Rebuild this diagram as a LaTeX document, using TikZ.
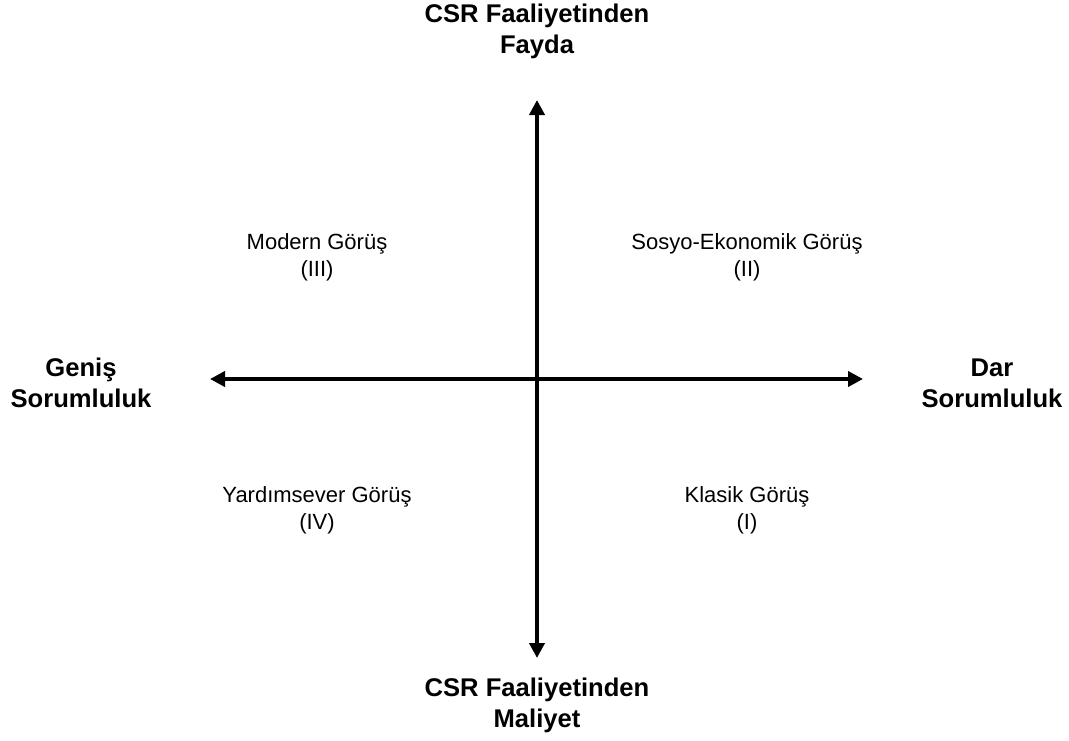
\documentclass[tikz,border=0pt]{standalone}
\usepackage{fontspec}
\setmainfont{Liberation Sans}
\usetikzlibrary{arrows.meta}

\begin{document}
\begin{tikzpicture}[x=1pt,y=-1pt]
			\tikzstyle{every node}+=[inner sep=0pt, align=center]
			\tikzstyle{axislabel}=[font=\fontsize{25.6}{31}\selectfont\bfseries]
			\tikzstyle{view}=[font=\fontsize{22}{27}\selectfont]
			\tikzstyle{axis}=[line width=4pt, {Triangle[length=15pt,width=15pt]}-{Triangle[length=15pt,width=15pt]}]
			\useasboundingbox (0,0) rectangle (1069,740);
			
			\coordinate (top) at (537,100);
			\coordinate (bottom) at (537,658);
			\coordinate (left) at (210,379);
			\coordinate (right) at (863,379);
			\draw [axis] (bottom) -- (top);
			\draw [axis] (left) -- (right);
			
			\node [axislabel] (fayda) at (537,31) {CSR Faaliyetinden\\Fayda};
			\node [axislabel] (maliyet) at (537,705) {CSR Faaliyetinden\\Maliyet};
			\node [axislabel] (genis) at (81,383) {Geniş\\Sorumluluk};
			\node [axislabel] (dar) at (992,383) {Dar\\Sorumluluk};
			
			\node [view] (modern) at (317,257) {Modern Görüş\\(III)};
			\node [view] (sosyo) at (747,257) {Sosyo-Ekonomik Görüş\\(II)};
			\node [view] (yardim) at (317,510) {Yardımsever Görüş\\(IV)};
			\node [view] (klasik) at (747,510) {Klasik Görüş\\(I)};
		\end{tikzpicture}
\end{document}
